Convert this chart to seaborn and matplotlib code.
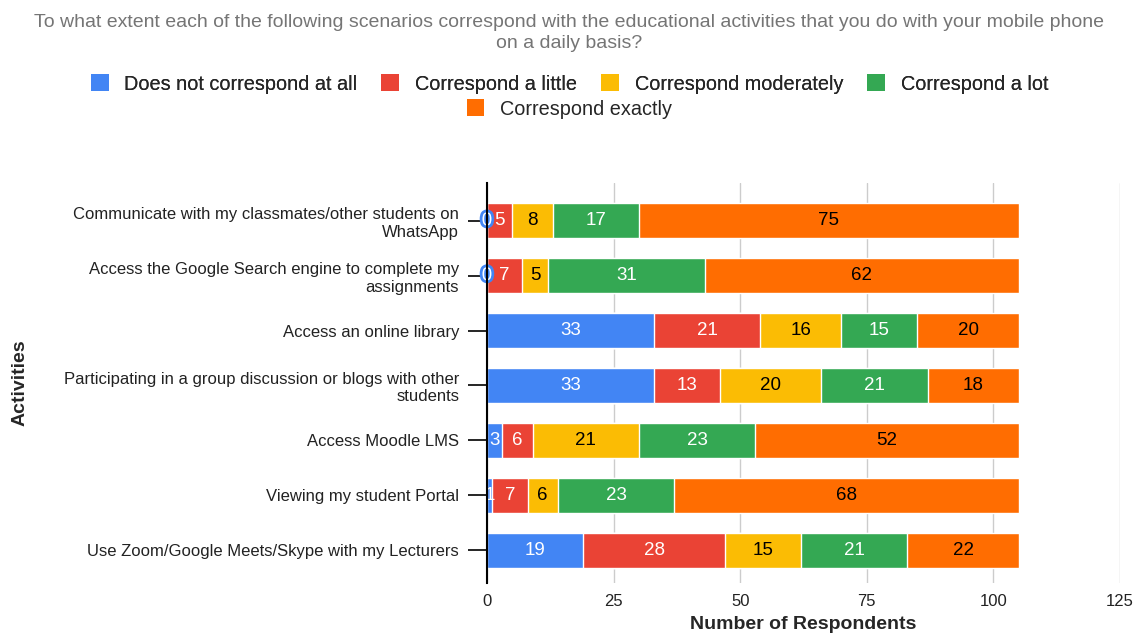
import matplotlib
matplotlib.use("Agg")
import matplotlib.pyplot as plt
import matplotlib.patheffects as pe
import seaborn as sns
import numpy as np
import pandas as pd
from matplotlib.patches import Patch

activities = [
    "Communicate with my classmates/other students on\nWhatsApp",
    "Access the Google Search engine to complete my\nassignments",
    "Access an online library",
    "Participating in a group discussion or blogs with other\nstudents",
    "Access Moodle LMS",
    "Viewing my student Portal",
    "Use Zoom/Google Meets/Skype with my Lecturers",
]
series_names = ["Does not correspond at all", "Correspond a little",
                "Correspond moderately", "Correspond a lot", "Correspond exactly"]
not_at_all = [0, 0, 33, 33, 3, 1, 19]
a_little = [5, 7, 21, 13, 6, 7, 28]
moderately = [8, 5, 16, 20, 21, 6, 15]
a_lot = [17, 31, 15, 21, 23, 23, 21]
exactly = [75, 62, 20, 18, 52, 68, 22]
x_ticks = [0, 25, 50, 75, 100, 125]

colors = ["#4285F4", "#EA4335", "#FBBC04", "#34A853", "#FF6D01"]
label_colors = ["white", "white", "black", "white", "black"]

sns.set_style("white")
plt.rcParams["font.family"] = ["Liberation Sans", "DejaVu Sans"]

fig = plt.figure(figsize=(11.39, 6.35), dpi=100)
ax = fig.add_axes([487 / 1139, 1 - 583 / 635, (1120 - 487) / 1139, (583 - 183) / 635])

series = [not_at_all, a_little, moderately, a_lot, exactly]
df = pd.DataFrame({name: vals for name, vals in zip(series_names, series)})
df["Activity"] = activities
cum = df[series_names].cumsum(axis=1)

# draw from the full stack down so that each layer shows its own segment
for k in range(len(series_names) - 1, -1, -1):
    sns.barplot(x=cum[series_names[k]].values, y=df["Activity"], orient="h",
                color=colors[k], width=0.64, ax=ax, saturation=1, zorder=3 + (5 - k) * 0.01)

starts = cum.values - df[series_names].values
for i in range(len(activities)):
    for k in range(len(series_names)):
        v = df[series_names[k]].iloc[i]
        xc = starts[i, k] + v / 2
        if v == 0:
            t = ax.text(xc, i, "0", ha="center", va="center", fontsize=13.5,
                        color="white", zorder=10)
            t.set_path_effects([pe.Stroke(linewidth=4, foreground=colors[0]), pe.Normal()])
        else:
            ax.text(xc, i, str(v), ha="center", va="center", fontsize=13.5,
                    color=label_colors[k], zorder=10)

ax.set_xlim(0, 125)
ax.set_ylim(6.6, -0.69)
ax.set_xticks(x_ticks)
ax.set_xticklabels([str(t) for t in x_ticks], fontsize=12, color="#222222")
ax.tick_params(axis="x", length=0, pad=8)
ax.tick_params(axis="y", length=14, width=1.2, color="black", left=True, pad=6,
               labelsize=12, labelcolor="#222222")
for lbl in ax.get_yticklabels():
    lbl.set_multialignment("right")
ax.xaxis.grid(True, color="#cccccc", linewidth=1, zorder=0)
ax.set_axisbelow(True)
for s in ["top", "right", "bottom"]:
    ax.spines[s].set_visible(False)
ax.spines["left"].set_color("black")
ax.spines["left"].set_linewidth(1.5)
ax.spines["left"].set_zorder(20)

ax.set_xlabel("Number of Respondents", fontsize=14, fontweight="bold", labelpad=5)
ax.set_ylabel("")
fig.text(20 / 1139, 1 - 383 / 635, "Activities", rotation=90, fontsize=14,
         fontweight="bold", ha="center", va="center")

fig.text(0.5, 1 - 33 / 635,
         "To what extent each of the following scenarios correspond with the educational activities that you do with your mobile phone\non a daily basis?",
         ha="center", va="center", fontsize=14, color="#757575", linespacing=1.25)

handles = [Patch(facecolor=c, edgecolor="none") for c in colors]
leg1 = fig.legend(handles[:4], series_names[:4], loc="center", ncol=4,
                  bbox_to_anchor=(0.5, 1 - 84 / 635), frameon=False, fontsize=14.3,
                  handlelength=0.9, handleheight=0.9, columnspacing=1.2, handletextpad=0.8)
fig.add_artist(leg1)
leg2 = fig.legend(handles[4:], series_names[4:], loc="center", ncol=1,
                  bbox_to_anchor=(0.5, 1 - 109 / 635), frameon=False, fontsize=14.3,
                  handlelength=0.9, handleheight=0.9, handletextpad=0.8)

fig.savefig("out.png", dpi=100)
